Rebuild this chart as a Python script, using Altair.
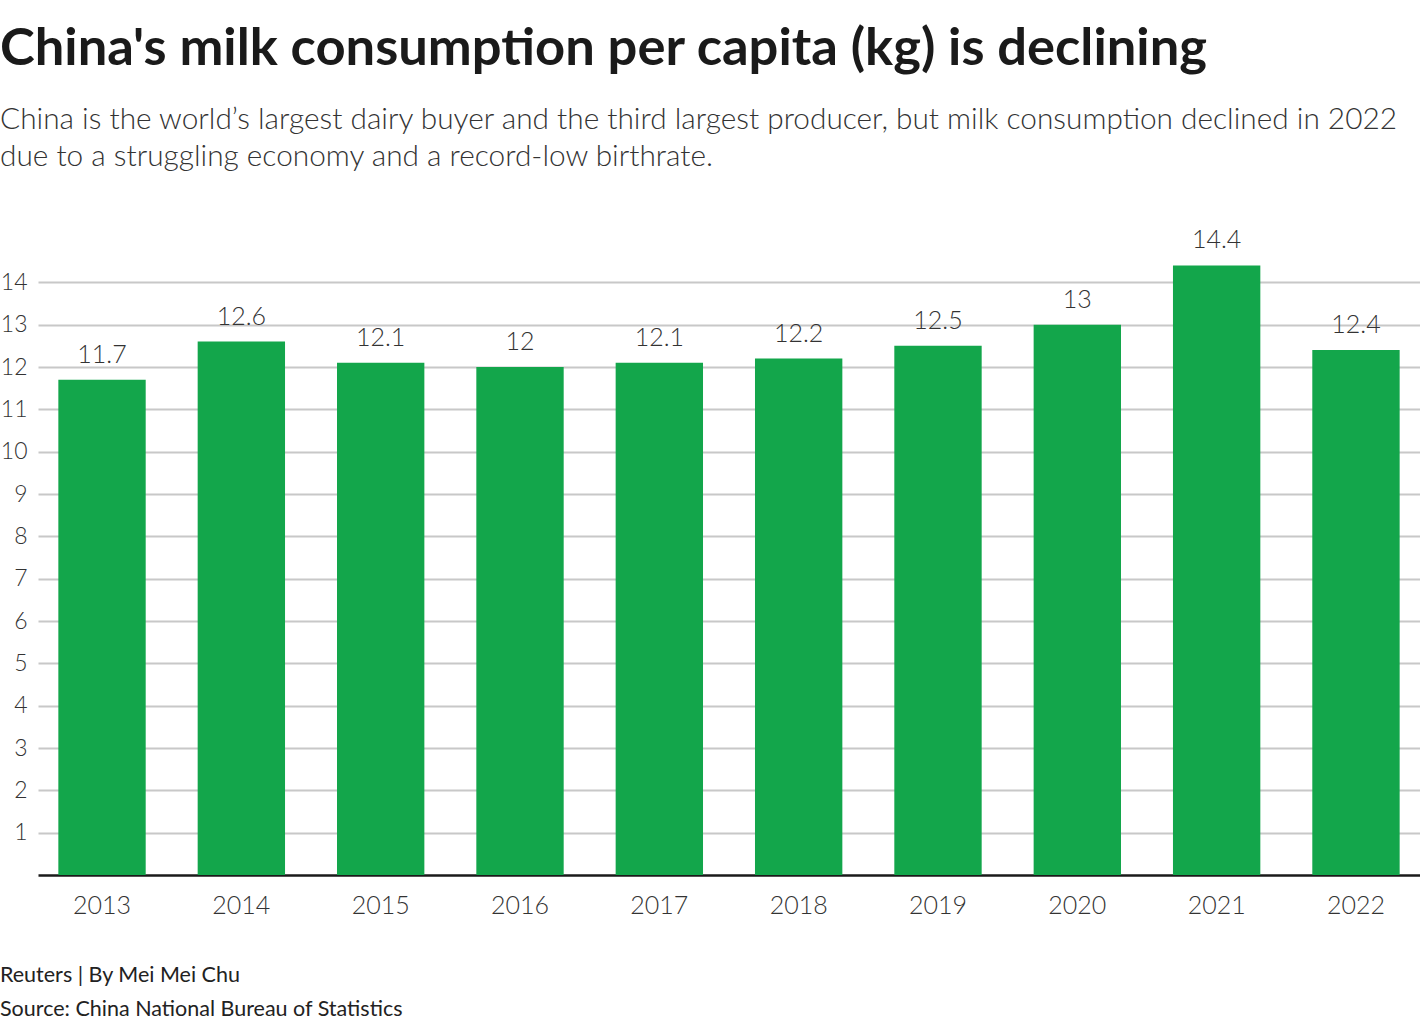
import altair as alt
import pandas as pd

years = ["2013", "2014", "2015", "2016", "2017", "2018", "2019", "2020", "2021", "2022"]
values = [11.7, 12.6, 12.1, 12.0, 12.1, 12.2, 12.5, 13.0, 14.4, 12.4]
labels = ["11.7", "12.6", "12.1", "12", "12.1", "12.2", "12.5", "13", "14.4", "12.4"]
y_ticks = [1, 2, 3, 4, 5, 6, 7, 8, 9, 10, 11, 12, 13, 14]

title_text = "China's milk consumption per capita (kg) is declining"
subtitle_lines = [
    "China is the world\u2019s largest dairy buyer and the third largest producer, but milk consumption declined in 2022",
    "due to a struggling economy and a record-low birthrate.",
]
footer_lines = ["Reuters | By Mei Mei Chu", "Source: China National Bureau of Statistics"]

FONT = "Lato"
df = pd.DataFrame({"year": years, "value": values, "label": labels})

base = alt.Chart(df)

bars = base.mark_bar(color="#13a64b").encode(
    x=alt.X(
        "year:N",
        title=None,
        sort=years,
        scale=alt.Scale(paddingInner=0.373, paddingOuter=0.146),
        axis=alt.Axis(
            labelAngle=0,
            labelFontSize=25,
            labelFont=FONT,
            labelFontWeight=300,
            labelColor="#333333",
            labelPadding=18,
            ticks=False,
            domain=True,
            domainColor="#1a1a1a",
            domainWidth=2.5,
            grid=False,
        ),
    ),
    y=alt.Y(
        "value:Q",
        title=None,
        scale=alt.Scale(domain=[0, 15], nice=False),
        axis=alt.Axis(
            values=y_ticks,
            labelFontSize=23,
            labelFont=FONT,
            labelFontWeight=300,
            labelColor="#333333",
            labelPadding=11,
            ticks=False,
            domain=False,
            grid=True,
            gridColor="#c8c8c8",
            gridWidth=2,
        ),
    ),
)

text = base.mark_text(
    baseline="bottom", dy=-12, fontSize=25, font=FONT, fontWeight=300, color="#333333"
).encode(
    x=alt.X("year:N", sort=years),
    y=alt.Y("value:Q"),
    text="label:N",
)

foot1 = alt.Chart(pd.DataFrame({"t": [footer_lines[0]]})).mark_text(
    align="left", baseline="middle", fontSize=21.5, font=FONT, color="#222222"
).encode(x=alt.value(-38), y=alt.value(736), text="t:N")

foot2 = alt.Chart(pd.DataFrame({"t": [footer_lines[1]]})).mark_text(
    align="left", baseline="middle", fontSize=21.5, font=FONT, color="#222222"
).encode(x=alt.value(-38), y=alt.value(770), text="t:N")

chart = (
    alt.layer(bars, text, foot1, foot2)
    .properties(
        width=1382,
        height=635,
        background="white",
        autosize=alt.AutoSizeParams(type="none"),
        padding={"left": 38, "top": 240, "right": 0, "bottom": 157},
        title=alt.TitleParams(
            text=title_text,
            subtitle=subtitle_lines,
            anchor="start",
            frame="bounds",
            font=FONT,
            fontSize=52.5,
            fontWeight="bold",
            color="#1a1a1a",
            subtitleFont=FONT,
            subtitleFontSize=29.8,
            subtitleFontWeight=300,
            subtitleColor="#333333",
            subtitleLineHeight=37,
            subtitlePadding=28,
            offset=56,
        ),
    )
    .configure_view(strokeWidth=0, stroke="transparent")
)

chart.save("out.html", embed_options={"renderer": "svg", "actions": False})
